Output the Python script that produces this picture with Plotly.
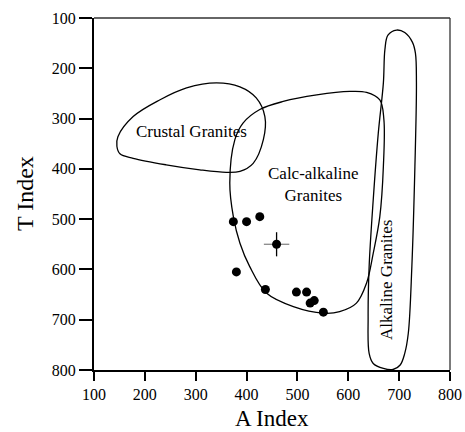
import plotly.graph_objects as go

# Sample compositions (A index, T index)
a_index = [374, 400, 426, 380, 437, 498, 518, 525, 533, 551]
t_index = [505, 505, 495, 605, 640, 645, 645, 667, 662, 685]

# Mean sample with uncertainty
mean_a, mean_t = 459, 550
err_a, err_t = 25, 24

# Field outlines (A index, T index)
crustal_a = [147, 177, 229, 282, 341, 387, 419, 436, 433, 413, 387, 360, 308, 242, 177, 151, 145]
crustal_t = [336, 296, 263, 239, 229, 237, 259, 296, 342, 389, 405, 407, 402, 392, 379, 370, 355]

calc_a = [377, 367, 374, 387, 406, 439, 492, 551, 583, 616, 636, 649, 662, 669, 670, 662, 636, 603, 538, 472, 426, 393]
calc_t = [342, 428, 495, 548, 594, 647, 674, 687, 684, 667, 627, 568, 495, 395, 302, 263, 248, 246, 253, 266, 282, 309]

alk_a = [695, 711, 726, 732, 734, 731, 725, 718, 711, 702, 688, 669, 649, 641, 639, 641, 649, 659, 669, 672, 678]
alk_t = [124, 129, 148, 170, 229, 395, 594, 727, 767, 790, 799, 797, 787, 767, 694, 594, 462, 329, 229, 163, 134]

field_labels = ["Crustal Granites", "Calc-alkaline<br>Granites", "Alkaline Granites"]
label_a = [292, 531, 676]
label_t = [326, 432, 621]
label_angle = [0, 0, -90]

x_title = "A Index"
y_title = "T Index"
tick_vals = [100, 200, 300, 400, 500, 600, 700, 800]

SERIF = "Liberation Serif, Times New Roman, serif"

fig = go.Figure()


def closed(xs, ys):
    return xs + xs[:1], ys + ys[:1]


for xs, ys in [(crustal_a, crustal_t), (calc_a, calc_t), (alk_a, alk_t)]:
    cx, cy = closed(xs, ys)
    fig.add_trace(go.Scatter(
        x=cx, y=cy, mode="lines",
        line=dict(color="black", width=1.3, shape="spline", smoothing=1.0),
        hoverinfo="skip", showlegend=False,
    ))

fig.add_trace(go.Scatter(
    x=a_index, y=t_index, mode="markers",
    marker=dict(color="black", size=9),
    showlegend=False,
))

# Mean point: grey horizontal bar, black vertical bar
fig.add_trace(go.Scatter(
    x=[mean_a], y=[mean_t], mode="markers",
    marker=dict(color="black", size=9),
    error_x=dict(type="constant", value=err_a, color="#888888", thickness=1.3, width=0),
    error_y=dict(type="constant", value=err_t, color="black", thickness=1.3, width=0),
    showlegend=False,
))

for text, xa, yt, ang in zip(field_labels, label_a, label_t, label_angle):
    fig.add_annotation(
        x=xa, y=yt, text=text, showarrow=False, textangle=ang,
        font=dict(family=SERIF, size=17, color="black"),
    )

# Axis titles
fig.add_annotation(
    xref="paper", yref="paper", x=0.5, y=0, yanchor="bottom", yshift=-62,
    text=x_title, showarrow=False, borderpad=0,
    font=dict(family=SERIF, size=23, color="black"),
)
fig.add_annotation(
    xref="paper", yref="paper", x=0, y=0.5, xanchor="center", xshift=-69,
    text=y_title, textangle=-90, showarrow=False,
    font=dict(family=SERIF, size=24, color="black"),
)

# Thin top and right frame lines
fig.add_shape(type="line", xref="paper", yref="paper", x0=0, x1=1, y0=1, y1=1,
              line=dict(color="#333333", width=1.3))
fig.add_shape(type="line", xref="paper", yref="paper", x0=1, x1=1, y0=0, y1=1,
              line=dict(color="#333333", width=1.3))

fig.update_layout(
    width=465, height=432,
    margin=dict(l=94, r=15, t=18, b=62),
    paper_bgcolor="white", plot_bgcolor="white",
    font=dict(family=SERIF, color="black"),
    xaxis=dict(
        range=[100, 800], tickvals=tick_vals, ticks="outside", ticklen=9,
        tickwidth=1.5, tickcolor="black", showline=True, linewidth=2,
        linecolor="black", showgrid=False, zeroline=False, automargin=False,
        tickfont=dict(family=SERIF, size=16, color="black"),
    ),
    yaxis=dict(
        range=[800, 100], tickvals=tick_vals, ticks="outside", ticklen=13,
        tickwidth=1.5, tickcolor="black", showline=True, linewidth=2,
        linecolor="black", showgrid=False, zeroline=False, automargin=False,
        tickfont=dict(family=SERIF, size=16, color="black"),
    ),
)

fig.write_html("out.html")
